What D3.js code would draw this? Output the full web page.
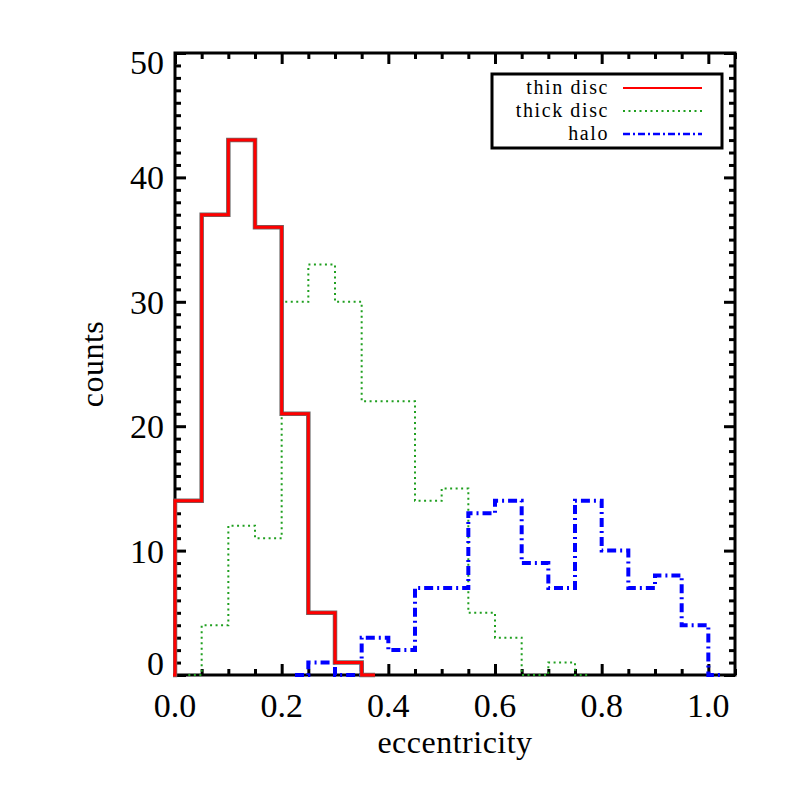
<!DOCTYPE html>
<html>
<head>
<meta charset="utf-8">
<script src="https://cdn.jsdelivr.net/npm/d3@7"></script>
<style>
  body { margin: 0; background: #fff; }
  text { font-family: "Liberation Serif", serif; fill: #000; }
</style>
</head>
<body>
<div id="chart"></div>
<script>
// bin centres (width 0.05) and counts
var thinX = [-0.025, 0.025, 0.075, 0.125, 0.175, 0.225, 0.275, 0.325, 0.375];
var thinCounts = [0, 14, 37, 43, 36, 21, 5, 1, 0];

var thickX = [0.025, 0.075, 0.125, 0.175, 0.225, 0.275, 0.325, 0.375, 0.425, 0.475, 0.525, 0.575, 0.625, 0.675, 0.725, 0.775];
var thickCounts = [0, 4, 12, 11, 30, 33, 30, 22, 22, 14, 15, 5, 3, 0, 1, 0];

var haloX = [0.225, 0.275, 0.325, 0.375, 0.425, 0.475, 0.525, 0.575, 0.625, 0.675, 0.725, 0.775, 0.825, 0.875, 0.925, 0.975, 1.025];
var haloCounts = [0, 1, 0, 3, 2, 7, 7, 13, 14, 9, 7, 14, 10, 7, 8, 4, 0];

var xTicks = [0, 0.2, 0.4, 0.6, 0.8, 1.0];
var yTicks = [0, 10, 20, 30, 40, 50];
var legendNames = ["thin disc", "thick disc", "halo"];

var width = 786, height = 786;
var margin = {top: 53, right: 51, bottom: 111, left: 175};

var svg = d3.select("#chart").append("svg")
  .attr("width", width)
  .attr("height", height);

var x = d3.scaleLinear().domain([0, 1.05]).range([margin.left, width - margin.right]);
var y = d3.scaleLinear().domain([0, 50]).range([height - margin.bottom, margin.top]);

// axes, ticks inward on all four sides
var minorX = d3.range(0, 1.051, 0.05).filter(function(v){ return Math.abs(v * 5 - Math.round(v * 5)) > 1e-6; });
var minorY = d3.range(0, 51, 1).filter(function(v){ return v % 10 !== 0; });

function styleAxis(g) {
  g.select(".domain").remove();
  g.selectAll(".tick line").attr("stroke", "#000").attr("stroke-width", 3);
  g.selectAll(".tick text").remove();
}

svg.append("g").attr("transform", "translate(0," + y(0) + ")")
  .call(d3.axisBottom(x).tickValues(xTicks).tickSize(-11)).call(styleAxis);
svg.append("g").attr("transform", "translate(0," + y(0) + ")")
  .call(d3.axisBottom(x).tickValues(minorX).tickSize(-6)).call(styleAxis);
svg.append("g").attr("transform", "translate(0," + y(50) + ")")
  .call(d3.axisTop(x).tickValues(xTicks).tickSize(-11)).call(styleAxis);
svg.append("g").attr("transform", "translate(0," + y(50) + ")")
  .call(d3.axisTop(x).tickValues(minorX).tickSize(-6)).call(styleAxis);
svg.append("g").attr("transform", "translate(" + x(0) + ",0)")
  .call(d3.axisLeft(y).tickValues(yTicks).tickSize(-11)).call(styleAxis);
svg.append("g").attr("transform", "translate(" + x(0) + ",0)")
  .call(d3.axisLeft(y).tickValues(minorY).tickSize(-6)).call(styleAxis);
svg.append("g").attr("transform", "translate(" + x(1.05) + ",0)")
  .call(d3.axisRight(y).tickValues(yTicks).tickSize(-11)).call(styleAxis);
svg.append("g").attr("transform", "translate(" + x(1.05) + ",0)")
  .call(d3.axisRight(y).tickValues(minorY).tickSize(-6)).call(styleAxis);

svg.append("rect")
  .attr("x", x(0)).attr("y", y(50))
  .attr("width", x(1.05) - x(0)).attr("height", y(0) - y(50))
  .style("fill", "none").style("stroke", "#000").style("stroke-width", 3);

// histograms drawn on top of the frame, clipped just outside x = 0
svg.append("clipPath").attr("id", "clip")
  .append("rect")
  .attr("x", x(0) - 2).attr("y", y(50))
  .attr("width", x(1.05) - x(0) + 2).attr("height", y(0) - y(50) + 4);

var step = d3.line()
  .curve(d3.curveStep)
  .x(function(d){ return x(d[0]); })
  .y(function(d){ return y(d[1]); });

var plot = svg.append("g").attr("clip-path", "url(#clip)");

// thick disc - dotted green
plot.append("path")
  .datum(d3.zip(thickX, thickCounts))
  .attr("d", step)
  .style("fill", "none")
  .style("stroke", "#1f9f1f")
  .style("stroke-width", 2)
  .style("stroke-dasharray", "2,3.5");

// halo - dash dot blue
plot.append("path")
  .datum(d3.zip(haloX, haloCounts))
  .attr("d", step)
  .style("fill", "none")
  .style("stroke", "#0000ff")
  .style("stroke-width", 4)
  .style("stroke-dasharray", "9,4,2,4");

// thin disc - red with dark edge
plot.append("path")
  .datum(d3.zip(thinX, thinCounts))
  .attr("d", step)
  .style("fill", "none")
  .style("stroke", "#6a6a6a")
  .style("stroke-width", 4.5);
plot.append("path")
  .datum(d3.zip(thinX, thinCounts))
  .attr("d", step)
  .style("fill", "none")
  .style("stroke", "#ff0000")
  .style("stroke-width", 3);

// tick labels
svg.selectAll(".xlab").data(xTicks).enter().append("text")
  .attr("x", function(d){ return x(d); })
  .attr("y", 717)
  .style("text-anchor", "middle")
  .style("font-size", "34px")
  .text(function(d){ return d3.format(".1f")(d); });

svg.selectAll(".ylab").data(yTicks).enter().append("text")
  .attr("x", x(0) - 11)
  .attr("y", function(d){ return Math.max(74, Math.min(y(0), y(d) + 12)); })
  .style("text-anchor", "end")
  .style("font-size", "34px")
  .text(function(d){ return d; });

// axis titles
svg.append("text")
  .attr("x", 455).attr("y", 753)
  .style("text-anchor", "middle")
  .style("font-size", "32px")
  .style("letter-spacing", "0.5px")
  .text("eccentricity");

svg.append("text")
  .attr("transform", "translate(103,364) rotate(-90)")
  .style("text-anchor", "middle")
  .style("font-size", "32px")
  .style("letter-spacing", "0.5px")
  .text("counts");

// legend
var legend = svg.append("g");
legend.append("rect")
  .attr("x", 492).attr("y", 74).attr("width", 230).attr("height", 74)
  .style("fill", "#fff").style("stroke", "#000").style("stroke-width", 3);

var legendStyles = [
  {color: "#ff0000", dash: null, w: 2},
  {color: "#1f9f1f", dash: "2,3.5", w: 2},
  {color: "#0000ff", dash: "7,3,2,3", w: 2.5}
];
var legendRowY = [88, 111, 134];

legendNames.forEach(function(name, i){
  legend.append("text")
    .attr("x", 609).attr("y", legendRowY[i] + 6)
    .style("text-anchor", "end")
    .style("font-size", "20px")
    .style("letter-spacing", "1.6px")
    .text(name);
  legend.append("line")
    .attr("x1", 623).attr("x2", 702)
    .attr("y1", legendRowY[i]).attr("y2", legendRowY[i])
    .style("stroke", legendStyles[i].color)
    .style("stroke-width", legendStyles[i].w)
    .style("stroke-dasharray", legendStyles[i].dash);
});
</script>
</body>
</html>
